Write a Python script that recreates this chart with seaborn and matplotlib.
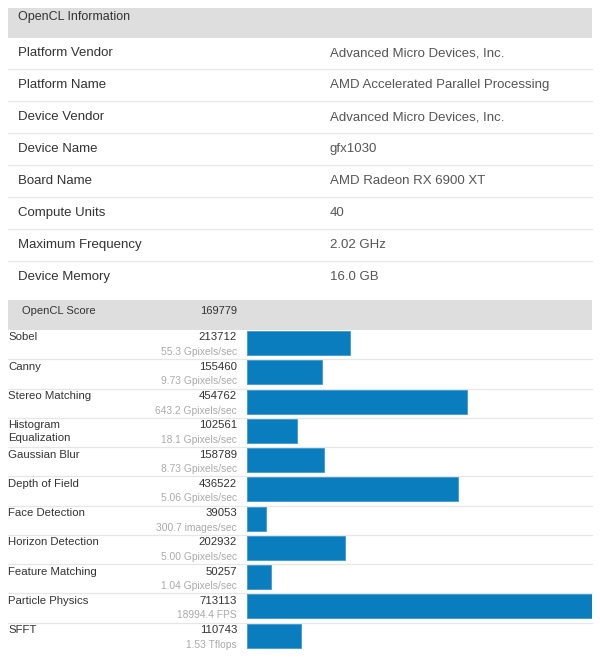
import matplotlib
matplotlib.use("Agg")
import matplotlib.pyplot as plt
import seaborn as sns
import pandas as pd
from matplotlib.patches import Rectangle

# ---------------- data ----------------
info_title = "OpenCL Information"
info_labels = ["Platform Vendor", "Platform Name", "Device Vendor", "Device Name",
               "Board Name", "Compute Units", "Maximum Frequency", "Device Memory"]
info_values = ["Advanced Micro Devices, Inc.", "AMD Accelerated Parallel Processing",
               "Advanced Micro Devices, Inc.", "gfx1030", "AMD Radeon RX 6900 XT",
               "40", "2.02 GHz", "16.0 GB"]

score_title = "OpenCL Score"
score_total = 169779
bench_names = ["Sobel", "Canny", "Stereo Matching", "Histogram\nEqualization",
               "Gaussian Blur", "Depth of Field", "Face Detection", "Horizon Detection",
               "Feature Matching", "Particle Physics", "SFFT"]
bench_scores = [213712, 155460, 454762, 102561, 158789, 436522, 39053, 202932,
                50257, 713113, 110743]
bench_units = ["55.3 Gpixels/sec", "9.73 Gpixels/sec", "643.2 Gpixels/sec",
               "18.1 Gpixels/sec", "8.73 Gpixels/sec", "5.06 Gpixels/sec",
               "300.7 images/sec", "5.00 Gpixels/sec", "1.04 Gpixels/sec",
               "18994.4 FPS", "1.53 Tflops"]

# ---------------- style ----------------
sns.set_theme(style="white")
plt.rcParams["font.family"] = ["Liberation Sans", "DejaVu Sans"]

W, H = 600, 657
fig = plt.figure(figsize=(W / 100, H / 100), dpi=100)
fig.patch.set_facecolor("white")

bg = fig.add_axes([0, 0, 1, 1])
bg.set_xlim(0, W)
bg.set_ylim(H, 0)
bg.axis("off")

HEAD = "#dedede"
SEP = "#e6e6e6"
TXT = "#333333"
VAL = "#555555"
UNIT = "#aaaaaa"
BAR = "#0a7dbf"

LX, RX = 8, 592

# ---------- top info table ----------
bg.add_patch(Rectangle((LX, 8), RX - LX, 30, facecolor=HEAD, edgecolor="none"))
bg.text(18, 17, info_title, fontsize=9, color=TXT, va="center", ha="left")
row_h = 32
top0 = 37
for i, (lab, val) in enumerate(zip(info_labels, info_values)):
    cy = top0 + row_h * i + 16
    bg.text(18, cy, lab, fontsize=9.5, color=TXT, va="center", ha="left")
    bg.text(330, cy, val, fontsize=9.5, color=VAL, va="center", ha="left")
    if i < len(info_labels) - 1:
        yy = top0 + row_h * (i + 1)
        bg.plot([LX, RX], [yy, yy], color=SEP, lw=0.9)

# ---------- score table ----------
bg.add_patch(Rectangle((LX, 300), RX - LX, 30, facecolor=HEAD, edgecolor="none"))
bg.text(22, 311, score_title, fontsize=8, color=TXT, va="center", ha="left")
bg.text(237, 311, str(score_total), fontsize=8, color=TXT, va="center", ha="right")

r0, r1 = 330, 652
n = len(bench_names)
rh = (r1 - r0) / n
for i, (nm, sc, un) in enumerate(zip(bench_names, bench_scores, bench_units)):
    top = r0 + rh * i
    lines = nm.split("\n")
    for k, ln in enumerate(lines):
        bg.text(LX, top + 7.5 + 13 * k, ln, fontsize=8.2, color=TXT, va="center", ha="left")
    bg.text(237, top + 7.5, str(sc), fontsize=8.2, color=TXT, va="center", ha="right")
    bg.text(237, top + 22, un, fontsize=7.4, color=UNIT, va="center", ha="right")
    if i > 0:
        bg.plot([LX, RX], [top, top], color=SEP, lw=0.9)

# bars axes
bx0, bx1 = 247, 592
ax = fig.add_axes([bx0 / W, 1 - r1 / H, (bx1 - bx0) / W, (r1 - r0) / H])
ax.patch.set_alpha(0)
df = pd.DataFrame({"name": bench_names, "score": bench_scores})
sns.barplot(data=df, x="score", y="name", order=bench_names, color=BAR,
            saturation=1, width=0.82, edgecolor="#3d9ad0", linewidth=0.6, ax=ax)
ax.set_xlim(0, max(bench_scores))
off = 0.055
ax.set_ylim(n - 0.5 + off, -0.5 + off)
ax.axis("off")

fig.savefig("out.png", dpi=100, facecolor="white")
